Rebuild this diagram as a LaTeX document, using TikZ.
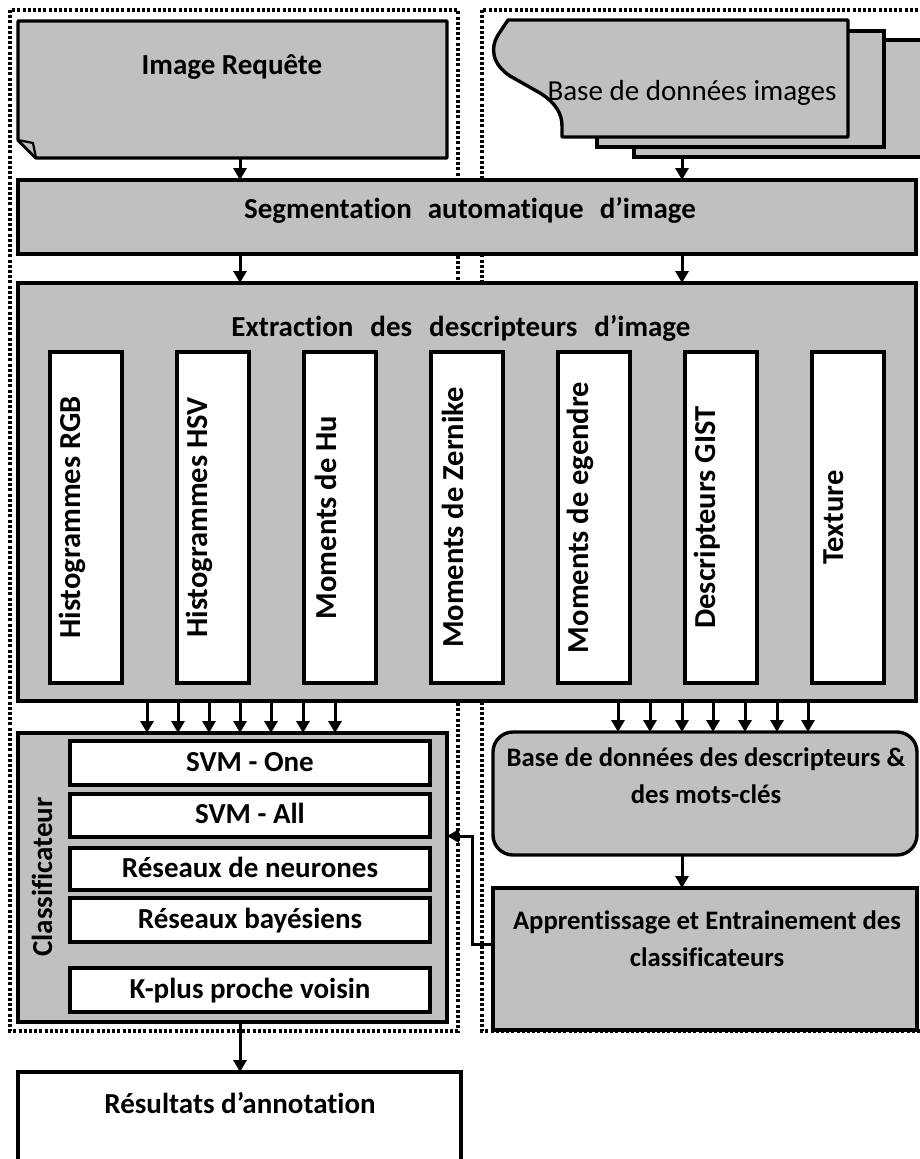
\documentclass[tikz,border=0pt]{standalone}
\usepackage{fontspec}
\setmainfont{Carlito}[Ligatures={NoCommon,NoContextual}]
\usetikzlibrary{arrows.meta,calc}
\definecolor{boxgray}{RGB}{192,192,192}
\begin{document}
\begin{tikzpicture}[x=1pt,y=-1pt,
  frame/.style={draw=black,line width=3.4pt},
  graybox/.style={frame,fill=boxgray,inner sep=0pt,outer sep=0pt,anchor=north west},
  whitebox/.style={frame,fill=white,inner sep=0pt,outer sep=0pt,
    font=\fontsize{29pt}{35pt}\selectfont\bfseries,text height=20pt,text depth=4pt},
  txt/.style={font=\fontsize{29pt}{35pt}\selectfont\bfseries,inner sep=0pt,anchor=base},
  smalltxt/.style={font=\fontsize{26.7pt}{32pt}\selectfont\bfseries,inner sep=0pt,anchor=base},
  plaintxt/.style={font=\fontsize{29pt}{35pt}\selectfont,inner sep=0pt,anchor=base},
  vtxt/.style={font=\fontsize{30.5pt}{36pt}\selectfont\bfseries,inner sep=0pt,rotate=90},
  ctxt/.style={font=\fontsize{29pt}{35pt}\selectfont\bfseries,inner sep=0pt,rotate=90},
  zone/.style={line width=3.4pt,dash pattern=on 3pt off 2.2pt},
  arr/.style={line width=3pt,-{Triangle[width=13pt,length=12pt]}},
]
\useasboundingbox (0,0) rectangle (919,1159);

% dotted zones: query side and database side
\draw[zone] (10,10) rectangle (458,1031);
\draw[zone] (482,10) rectangle (940,1031);

% query image (document with folded corner)
\node[minimum width=429pt,minimum height=137pt,inner sep=0pt,outer sep=0pt,anchor=north west] (req) at (18,21) {};
\filldraw[frame,fill=boxgray,line join=round] (req.north west) -- (req.north east) -- (req.south east)
  -- ($(req.south west)+(18,0)$) -- ($(req.south west)+(0,-18)$) -- cycle;
\filldraw[line width=2.2pt,fill=boxgray,line join=round] ($(req.south west)+(0,-18)$) -- ($(req.south west)+(15,-15)$)
  -- ($(req.south west)+(18,0)$) -- cycle;
\node[txt] (reqtext) at (232,74) {Image Requête};

% image database (stack of documents)
\node[graybox,minimum width=306pt,minimum height=117pt] (db3) at (634,40) {};
\node[graybox,minimum width=287pt,minimum height=116pt] (db2) at (597,31) {};
\node[minimum width=355pt,minimum height=117pt,inner sep=0pt,outer sep=0pt,anchor=north west] (db) at (493,20) {};
\filldraw[frame,fill=boxgray,line join=round] (508,20) -- (848,20) -- (848,137) -- (562,137) -- (562,126)
  .. controls (562,114) and (556,103) .. (540,93) -- (510,76)
  .. controls (492,64) and (490,48) .. (498,35) -- cycle;
\node[plaintxt] (dbtext) at (692,100) {Base de données images};

% segmentation
\node[graybox,minimum width=898pt,minimum height=74pt] (seg) at (18,180) {};
\node[txt] (segtext) at (470,218) {Segmentation\hspace{16pt}automatique\hspace{16pt}d’image};

% descriptor extraction
\node[graybox,minimum width=898pt,minimum height=418pt] (ext) at (18,283) {};
\node[txt] (exttext) at (461,336) {Extraction\hspace{17pt}des\hspace{17pt}descripteurs\hspace{17pt}d’image};
\foreach \n/\x/\t in {1/86/Histogrammes RGB,2/213/Histogrammes HSV,3/340/Moments de Hu,
    4/467/Moments de Zernike,5/594/Moments de egendre,6/721/Descripteurs GIST,7/848/Texture}{
  \node[whitebox,minimum width=72pt,minimum height=331pt] (d\n) at (\x,517.5) {};
  \node[vtxt] (dt\n) at ([xshift=-14pt]d\n.center) {\t};
}

% classifier block
\node[graybox,minimum width=429pt,minimum height=289pt] (cls) at (18,733) {};
\node[ctxt] (clstext) at (42,877) {Classificateur};
\node[whitebox,minimum width=360pt,minimum height=44pt] (svmone) at (250,763) {SVM - One};
\node[whitebox,minimum width=360pt,minimum height=43pt] (svmall) at (250,815.5) {SVM - All};
\node[whitebox,minimum width=360pt,minimum height=42pt] (neur) at (250,869) {Réseaux de neurones};
\node[whitebox,minimum width=360pt,minimum height=44pt] (bay) at (250,920) {Réseaux bayésiens};
\node[whitebox,minimum width=360pt,minimum height=44pt] (knn) at (250,990) {K-plus proche voisin};

% descriptor / keyword database
\node[graybox,rounded corners=20pt,minimum width=424pt,minimum height=123pt] (kdb) at (493,732) {};
\node[smalltxt] (kdbt1) at (706,766) {Base de données des descripteurs \&};
\node[smalltxt] (kdbt2) at (706,803) {des mots-clés};

% training
\node[graybox,minimum width=424pt,minimum height=142pt] (app) at (493,888) {};
\node[smalltxt] (appt1) at (707,929) {Apprentissage et Entrainement des};
\node[smalltxt] (appt2) at (707,966) {classificateurs};

% annotation results
\node[frame,fill=white,inner sep=0pt,outer sep=0pt,anchor=north west,minimum width=443pt,minimum height=110pt] (res) at (18,1072) {};
\node[txt] (restext) at (240,1113) {Résultats d’annotation};

% connectors
\coordinate (colL) at (240,0);
\coordinate (colR) at (682,0);
\draw[arr] (colL |- req.south) -- (colL |- seg.north);
\draw[arr] (colR |- db3.south) -- (colR |- seg.north);
\draw[arr] (colL |- seg.south) -- (colL |- ext.north);
\draw[arr] (colR |- seg.south) -- (colR |- ext.north);
\foreach \i/\x in {1/147,2/178,3/209,4/240,5/271,6/303,7/335}{
  \coordinate (cl\i) at (\x,0);
  \draw[arr] (cl\i |- ext.south) -- (cl\i |- cls.north);
}
\foreach \i/\x in {1/618,2/650,3/682,4/713,5/745,6/777,7/808}{
  \coordinate (cr\i) at (\x,0);
  \draw[arr] (cr\i |- ext.south) -- (cr\i |- kdb.north);
}
\draw[arr] (colR |- kdb.south) -- (colR |- app.north);
\coordinate (fb) at (472,944);
\coordinate (fbin) at (447,836);
\draw[arr] (fb -| app.west) -- (fb) |- (fbin -| cls.east);
\draw[arr] (colL |- cls.south) -- (colL |- res.north);
\end{tikzpicture}
\end{document}
